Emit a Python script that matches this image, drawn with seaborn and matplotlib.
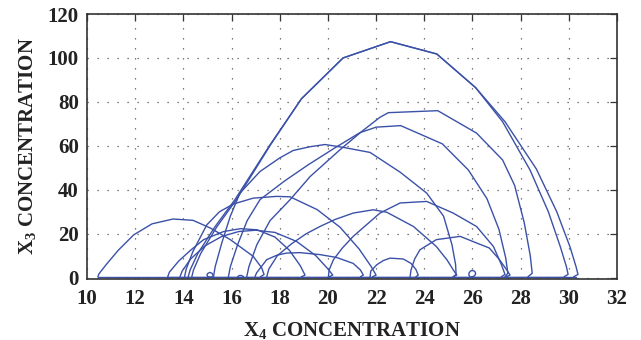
import matplotlib
matplotlib.use("Agg")
import matplotlib.pyplot as plt
import pandas as pd
import seaborn as sns

# ---- trajectory pieces (X4, X3) ----
arc_a_x = [10.45, 10.5, 10.8, 11.3, 11.94, 12.7, 13.57, 14.4, 15.12, 15.95, 16.9, 17.25, 17.35, 17.2]
arc_a_y = [0.4, 1.8, 6.0, 12.5, 19.5, 24.5, 26.7, 26.1, 22.6, 17.3, 9.7, 4.5, 1.5, 0.4]

arc_b1_x = [13.35, 13.42, 13.8, 14.3, 14.84, 15.67, 16.37, 17.06, 17.8, 18.4, 18.85, 19.05, 18.9]
arc_b1_y = [0.4, 2.5, 7.5, 12.5, 17.3, 21.0, 22.3, 21.8, 18.5, 12.5, 5.5, 1.2, 0.4]

arc_b2_x = [13.86, 13.95, 14.3, 14.9, 15.6, 16.3, 17.0, 17.8, 18.7, 19.5, 20.0, 20.2, 20.05]
arc_b2_y = [0.4, 3.0, 8.5, 14.5, 18.8, 21.0, 21.6, 20.6, 16.5, 10.0, 4.0, 1.2, 0.4]

arc_37_x = [14.05, 14.12, 14.4, 14.97, 15.5, 16.07, 16.9, 17.87, 18.43, 19.55, 20.5, 21.3, 21.8, 22.0, 21.85]
arc_37_y = [0.4, 4.0, 12.0, 24.0, 30.0, 33.5, 36.2, 37.0, 36.8, 31.0, 23.0, 13.0, 5.0, 1.2, 0.4]

arc_big1_x = [14.2, 14.28, 14.6, 15.3, 16.14, 17.6, 18.9, 20.63, 22.6, 24.52, 26.13, 27.25, 28.39, 29.15, 29.65, 29.9, 29.97, 29.8]
arc_big1_y = [0.4, 3.5, 11.0, 23.0, 35.5, 60.5, 81.4, 100.0, 107.4, 101.8, 86.5, 71.0, 49.0, 30.0, 14.0, 5.0, 1.5, 0.4]

arc_big2_x = [14.35, 14.42, 14.72, 15.38, 16.2, 17.62, 18.9, 20.63, 22.6, 24.52, 26.13, 27.35, 28.65, 29.5, 30.05, 30.3, 30.38, 30.2]
arc_big2_y = [0.4, 3.5, 11.0, 23.0, 35.5, 60.5, 81.4, 100.0, 107.4, 101.8, 86.5, 71.0, 49.5, 30.0, 14.0, 5.0, 1.5, 0.4]

arc_60_x = [15.25, 15.32, 15.6, 15.95, 16.35, 17.18, 18.0, 18.56, 19.26, 19.88, 20.64, 21.75, 23.0, 24.1, 24.8, 25.15, 25.3, 25.32, 25.2]
arc_60_y = [0.4, 5.0, 16.0, 28.0, 38.5, 48.3, 54.5, 57.9, 59.6, 60.6, 59.3, 57.0, 48.0, 38.5, 28.0, 15.0, 6.0, 1.5, 0.4]

arc_69_x = [15.87, 15.95, 16.25, 16.65, 17.18, 18.2, 19.2, 20.22, 21.33, 22.0, 23.02, 24.75, 25.83, 26.6, 27.1, 27.38, 27.47, 27.35]
arc_69_y = [0.4, 5.0, 15.0, 26.0, 35.5, 44.0, 51.5, 58.6, 66.0, 68.5, 69.2, 60.9, 49.0, 36.0, 22.0, 9.0, 2.0, 0.4]

arc_76_x = [16.63, 16.72, 17.05, 17.6, 18.43, 19.26, 20.5, 21.4, 22.16, 22.51, 24.56, 26.17, 27.25, 27.75, 28.15, 28.4, 28.48, 28.3]
arc_76_y = [0.4, 5.0, 15.0, 26.0, 35.5, 46.0, 58.2, 66.5, 73.0, 75.1, 76.0, 65.8, 53.6, 42.0, 25.0, 10.0, 2.0, 0.4]

arc_30_x = [17.46, 17.55, 17.9, 18.5, 19.1, 19.67, 20.3, 21.05, 21.88, 22.44, 23.55, 24.5, 24.95, 25.2, 25.35, 25.2]
arc_30_y = [0.4, 4.0, 10.0, 15.5, 20.0, 23.3, 26.5, 29.4, 30.9, 29.8, 23.3, 14.2, 8.0, 3.6, 1.2, 0.4]

arc_11_x = [16.97, 17.04, 17.46, 17.9, 18.29, 18.84, 19.67, 20.36, 21.05, 21.35, 21.47, 21.35]
arc_11_y = [0.4, 2.2, 8.2, 10.3, 11.2, 11.4, 10.5, 9.2, 6.5, 3.5, 1.2, 0.4]

arc_34_x = [20.02, 20.05, 20.23, 20.6, 21.05, 22.16, 23.0, 24.1, 25.2, 26.17, 26.87, 27.2, 27.35, 27.2]
arc_34_y = [0.4, 3.5, 8.2, 13.5, 18.8, 29.4, 34.0, 34.7, 29.4, 23.3, 14.2, 6.0, 1.5, 0.4]

arc_9_x = [21.75, 21.78, 22.03, 22.3, 22.58, 23.13, 23.45, 23.65, 23.75, 23.65]
arc_9_y = [0.4, 3.0, 5.9, 7.8, 8.9, 8.5, 6.5, 3.8, 1.2, 0.4]

arc_19_x = [23.41, 23.45, 23.6, 23.82, 24.5, 25.49, 26.17, 26.7, 27.1, 27.42, 27.56, 27.4]
arc_19_y = [0.4, 3.5, 8.5, 12.7, 17.3, 18.8, 15.8, 13.5, 8.5, 3.6, 1.2, 0.4]

loop_15_x = [15.2, 15.1, 15.0, 14.98, 15.02, 15.1, 15.19, 15.22, 15.25]
loop_15_y = [0.4, 0.25, 0.6, 1.3, 2.0, 2.4, 2.0, 1.3, 0.4]

loop_26_x = [25.9, 25.85, 25.86, 25.92, 25.98, 26.06, 26.12, 26.13, 26.08, 25.98, 25.95]
loop_26_y = [0.4, 1.2, 2.2, 3.0, 3.3, 3.1, 2.5, 1.6, 0.8, 0.4, 0.4]

bump_16_x = [16.25, 16.32, 16.42, 16.5]
bump_16_y = [0.4, 1.0, 1.0, 0.4]

base_1_x = [30.3, 10.45]
base_1_y = [0.45, 0.45]
base_2_x = [29.9, 13.3]
base_2_y = [0.15, 0.15]

x_ticks = [10, 12, 14, 16, 18, 20, 22, 24, 26, 28, 30, 32]
y_ticks = [0, 20, 40, 60, 80, 100, 120]

pieces = {
    "A": (arc_a_x, arc_a_y), "B1": (arc_b1_x, arc_b1_y), "B2": (arc_b2_x, arc_b2_y),
    "37": (arc_37_x, arc_37_y), "big1": (arc_big1_x, arc_big1_y), "big2": (arc_big2_x, arc_big2_y),
    "60": (arc_60_x, arc_60_y), "69": (arc_69_x, arc_69_y), "76": (arc_76_x, arc_76_y),
    "30": (arc_30_x, arc_30_y), "11": (arc_11_x, arc_11_y), "34": (arc_34_x, arc_34_y),
    "9": (arc_9_x, arc_9_y), "19": (arc_19_x, arc_19_y),
    "l15": (loop_15_x, loop_15_y), "l26": (loop_26_x, loop_26_y), "b16": (bump_16_x, bump_16_y),
    "base1": (base_1_x, base_1_y), "base2": (base_2_x, base_2_y),
}
rows = []
for name, (xs, ys) in pieces.items():
    for i, (xv, yv) in enumerate(zip(xs, ys)):
        rows.append((name, i, xv, yv))
df = pd.DataFrame(rows, columns=["piece", "order", "x4", "x3"])

sns.set_theme(style="white")
plt.rcParams["font.family"] = ["Liberation Serif", "DejaVu Serif"]
plt.rcParams["font.weight"] = "bold"
plt.rcParams["mathtext.fontset"] = "custom"
plt.rcParams["mathtext.rm"] = "Liberation Serif:bold"
plt.rcParams["mathtext.it"] = "Liberation Serif:bold"
plt.rcParams["mathtext.bf"] = "Liberation Serif:bold"

fig = plt.figure(figsize=(6.41, 3.40), dpi=100)
ax = fig.add_axes([87 / 641, 1 - 279 / 340, 530 / 641, 265 / 340])

sns.lineplot(data=df, x="x4", y="x3", units="piece", estimator=None, sort=False,
             color="#3b51a8", linewidth=1.0, ax=ax, legend=False)

ax.set_xlim(10, 32)
ax.set_ylim(-0.6, 120)
ax.set_xticks(x_ticks)
ax.set_yticks(y_ticks)
ax.grid(True, linestyle=(0, (1, 7)), linewidth=0.9, color="#555555")
ax.tick_params(direction="in", top=True, right=True, length=5, width=0.9,
               color="#333333", labelsize=15, labelcolor="#222222")
ax.tick_params(axis="x", pad=7)
ax.tick_params(axis="y", pad=6)
for lab in ax.get_xticklabels() + ax.get_yticklabels():
    lab.set_fontweight("bold")
for s in ax.spines.values():
    s.set_color("#333333")
    s.set_linewidth(1.2)

ax.set_xlabel(r"X$_{\mathrm{4}}$ CONCENTRATION", fontsize=15, fontweight="bold",
              color="#222222", labelpad=8)
ax.set_ylabel(r"X$_{\mathrm{3}}$ CONCENTRATION", fontsize=15, fontweight="bold",
              color="#222222", labelpad=7)

fig.savefig("out.png", dpi=100)
